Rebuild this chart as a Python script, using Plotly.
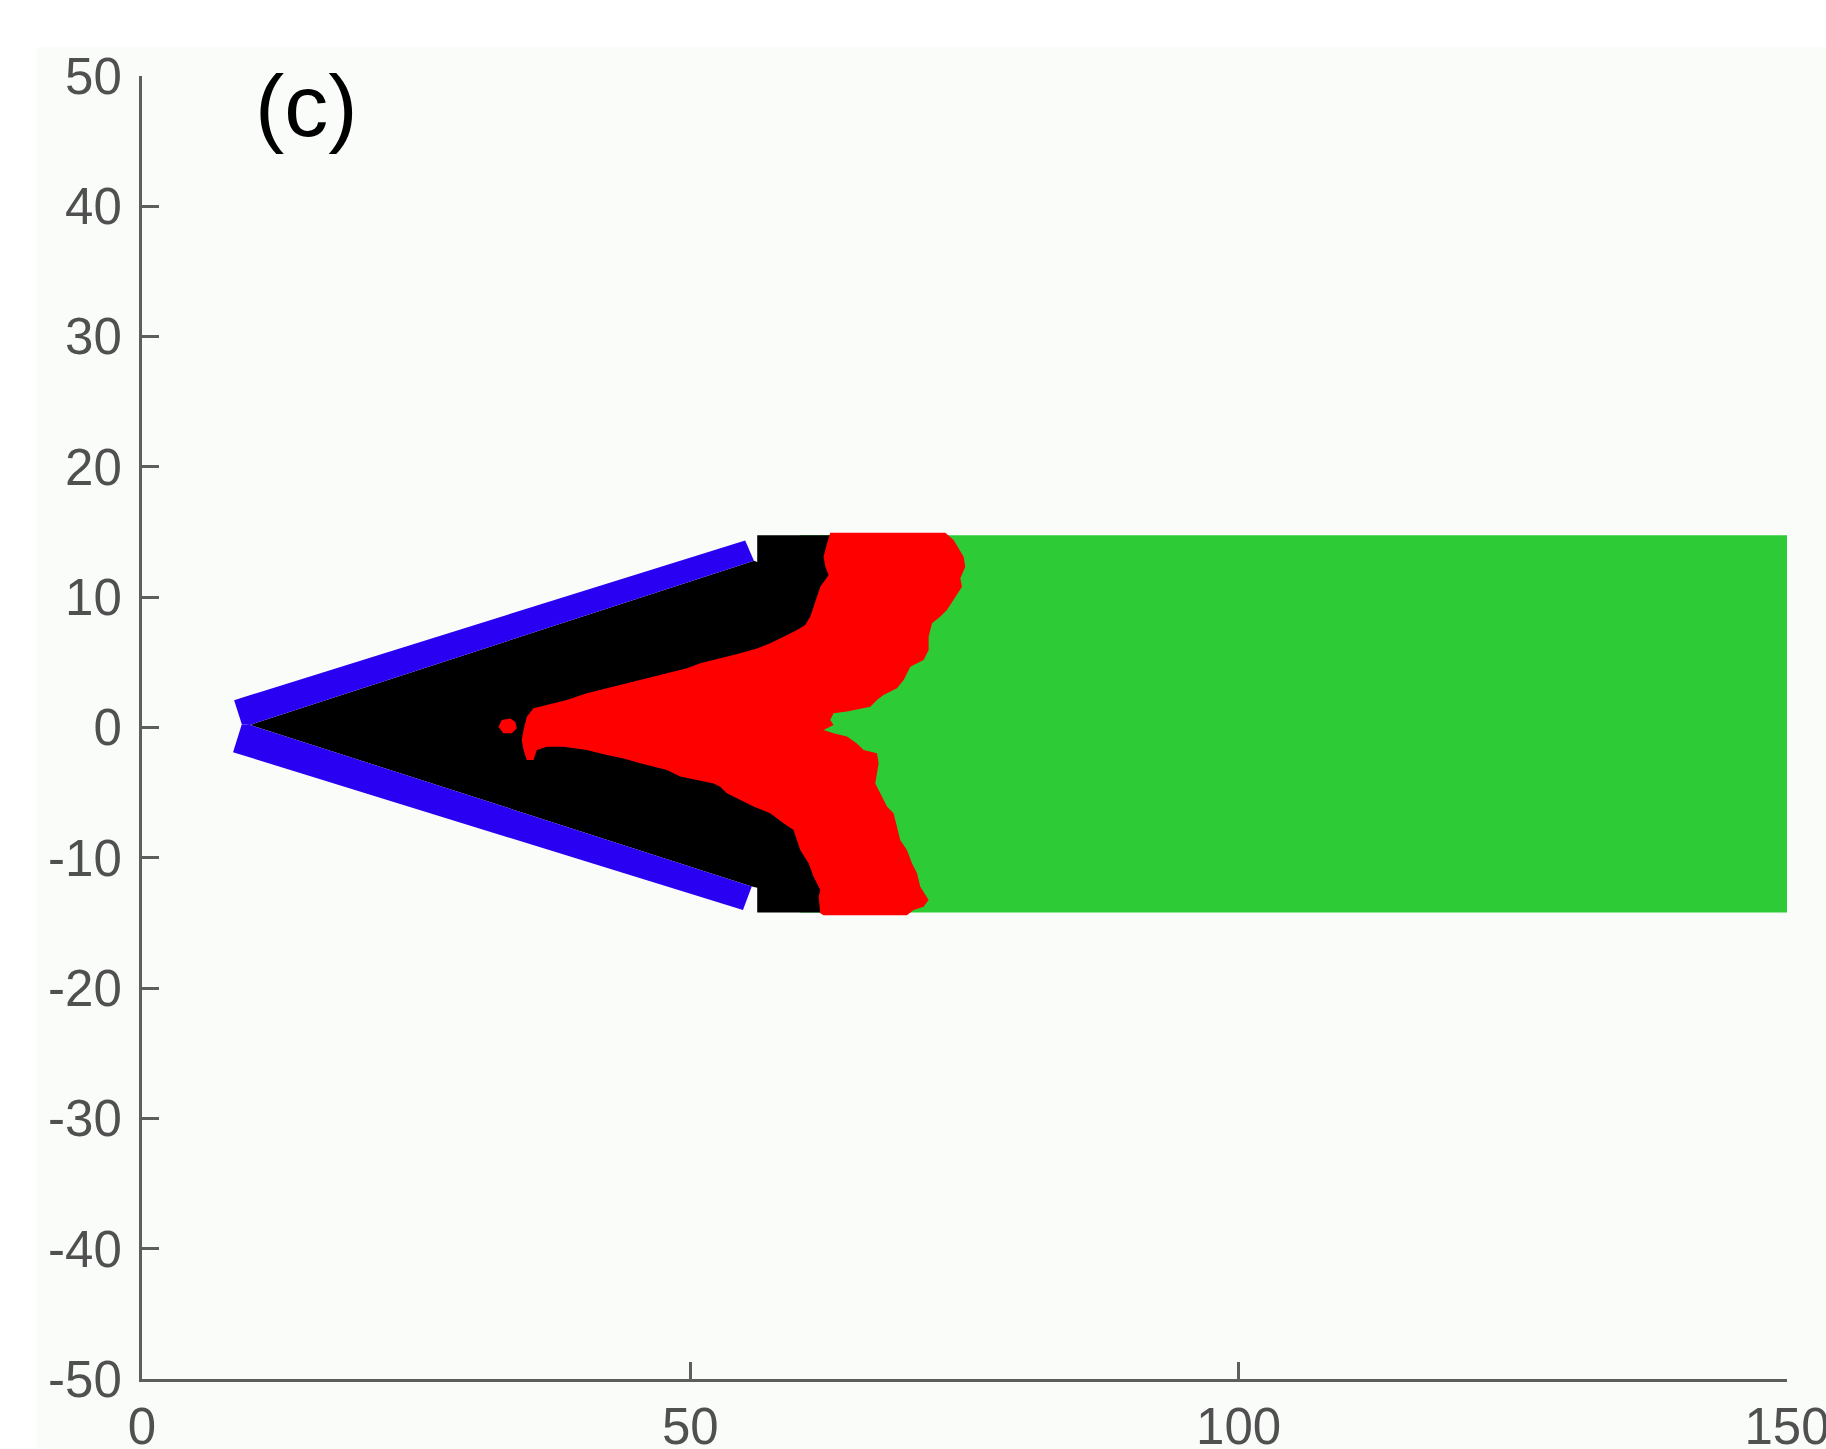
import plotly.graph_objects as go

# Region outlines (x, y in model units)
# Unreacted (green) block
green_x = [60.0, 150.0, 150.0, 60.0]
green_y = [-14.2, -14.2, 14.75, 14.75]

# Burnt (black) region: wedge plus channel up to the front
black_x = [9.85, 55.8, 56.1, 56.1, 64.0, 64.0, 61.0, 64.0, 64.0, 56.1, 56.1, 55.6]
black_y = [0.2, 12.8, 12.7, 14.75, 14.75, 3.0, 0.2, -3.0, -14.2, -14.2, -12.3, -12.2]

# Reacting front (red), traced clockwise from the top-left corner
red_x = [62.76, 73.25, 74.01, 74.92, 75.07, 74.62, 74.77, 74.01, 73.40, 72.80,
         72.04, 71.73, 71.73, 71.27, 70.06, 69.45, 68.84, 67.62, 67.02, 66.41,
         64.28, 63.06, 62.76, 63.06, 62.15, 63.06, 64.28, 65.19, 65.80, 67.02,
         67.17, 67.02, 66.86, 67.32, 67.93, 68.53, 68.84, 69.14, 69.75, 70.21,
         70.67, 70.97, 71.73, 71.27, 70.36, 69.75, 62.15,
         61.85, 61.70, 61.85, 61.24, 60.78, 60.02, 59.72, 59.41, 58.50, 57.28,
         55.76, 54.55, 53.33, 52.73, 52.12, 50.60, 49.08, 47.86, 46.64, 45.43,
         43.91, 42.39, 40.56, 38.43, 36.92, 36.00, 35.70, 35.09, 34.79, 34.63,
         34.79, 35.09, 35.70, 36.92, 38.74, 40.56, 42.39, 44.21, 46.04, 47.86,
         49.69, 50.90, 52.73, 54.55, 56.07, 57.28, 58.50, 59.72, 60.48, 60.94,
         61.24, 61.55, 61.85, 62.61, 62.31, 62.15, 62.46]
red_y = [14.95, 14.95, 14.39, 13.11, 12.34, 11.45, 10.81, 9.79, 9.02, 8.51,
         8.00, 6.97, 5.95, 5.18, 4.67, 3.65, 3.01, 2.49, 2.11, 1.60,
         1.22, 1.09, 0.58, 0.19, -0.19, -0.45, -0.70, -1.22, -1.73, -1.98,
         -2.75, -3.52, -4.29, -5.05, -6.07, -6.59, -7.61, -8.63, -9.40, -10.42,
         -11.19, -12.22, -13.24, -13.75, -14.01, -14.40, -14.40,
         -14.26, -12.98, -12.47, -11.45, -10.42, -9.40, -8.63, -7.87, -7.35, -6.59,
         -6.07, -5.56, -5.05, -4.54, -4.29, -4.03, -3.77, -3.26, -3.01, -2.75,
         -2.37, -2.11, -1.73, -1.47, -1.47, -1.73, -2.49, -2.49, -1.73, -0.96,
         -0.19, 0.83, 1.47, 1.73, 2.11, 2.62, 3.01, 3.39, 3.77, 4.16,
         4.54, 4.93, 5.31, 5.69, 6.07, 6.46, 6.97, 7.48, 7.87, 8.51,
         9.27, 10.04, 10.81, 11.70, 12.34, 13.11, 14.13]

# Isolated reacting spot ahead of the tongue
spot_x = [32.50, 32.81, 33.57, 34.03, 34.18, 33.72, 32.96]
spot_y = [0.06, 0.58, 0.70, 0.45, -0.06, -0.45, -0.45]

# Wedge walls (blue)
wall_top_x = [8.4, 55.0, 55.8, 9.85, 9.1]
wall_top_y = [2.1, 14.35, 12.8, 0.2, 0.25]
wall_bot_x = [9.1, 9.85, 55.6, 54.8, 8.3]
wall_bot_y = [0.25, 0.2, -12.2, -14.0, -1.9]

x_ticks = [0, 50, 100, 150]
y_ticks = [50, 40, 30, 20, 10, 0, -10, -20, -30, -40, -50]

GREEN = "#2dcc36"
BLACK = "#000000"
RED = "#ff0000"
BLUE = "#2a00f2"
AXIS = "#5e5e5e"


def region(xs, ys, color):
    return go.Scatter(
        x=xs, y=ys, mode="lines", fill="toself", fillcolor=color,
        line=dict(width=0, color=color), hoverinfo="skip", showlegend=False,
    )


fig = go.Figure()
fig.add_trace(region(green_x, green_y, GREEN))
fig.add_trace(region(black_x, black_y, BLACK))
fig.add_trace(region(red_x, red_y, RED))
fig.add_trace(region(spot_x, spot_y, RED))
fig.add_trace(region(wall_top_x, wall_top_y, BLUE))
fig.add_trace(region(wall_bot_x, wall_bot_y, BLUE))

tick_font = dict(family="Liberation Sans, Arial, sans-serif", size=51, color="#505050")

fig.update_layout(
    width=1826, height=1449,
    margin=dict(l=142, r=39, t=76, b=70, autoexpand=False),
    paper_bgcolor="#ffffff",
    plot_bgcolor="#fafcfa",
    showlegend=False,
    xaxis=dict(
        range=[0, 150], tickvals=x_ticks, ticktext=[str(v) for v in x_ticks],
        showgrid=False, zeroline=False, showline=True, linecolor=AXIS, linewidth=3,
        ticks="inside", ticklen=17, tickwidth=3, tickcolor=AXIS,
        tickfont=tick_font, ticklabelstandoff=1, automargin=False,
        ticklabeloverflow="allow",
    ),
    yaxis=dict(
        range=[-50, 50], tickvals=y_ticks, ticktext=[str(v) for v in y_ticks],
        showgrid=False, zeroline=False, showline=True, linecolor=AXIS, linewidth=3,
        ticks="inside", ticklen=17, tickwidth=3, tickcolor=AXIS,
        tickfont=tick_font, ticklabelstandoff=7, automargin=False,
        ticklabeloverflow="allow",
    ),
    shapes=[dict(
        type="rect", xref="paper", yref="paper", layer="below",
        x0=-0.064, x1=1.05, y0=-0.1, y1=1.022,
        fillcolor="#fafcfa", line=dict(width=0),
    )],
    annotations=[dict(
        x=15.0, y=47.7, xref="x", yref="y", text="(c)", showarrow=False,
        xanchor="center", yanchor="middle",
        font=dict(family="Liberation Sans, Arial, sans-serif", size=88, color="#000000"),
    )],
)

fig.write_html("out.html")
